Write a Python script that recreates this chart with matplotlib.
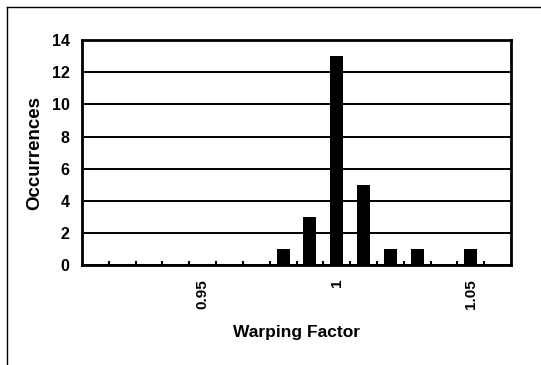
import matplotlib
matplotlib.use("Agg")
import matplotlib.pyplot as plt
import numpy as np
from matplotlib.lines import Line2D

plt.rcParams['font.family'] = ['Liberation Sans', 'DejaVu Sans']
plt.rcParams['font.weight'] = 'bold'

warping = [0.98, 0.99, 1.00, 1.01, 1.02, 1.03, 1.05]
counts = [1, 3, 13, 5, 1, 1, 1]
xticks = [0.95, 1.00, 1.05]
xticklabels = ["0.95", "1", "1.05"]
yticks = [0, 2, 4, 6, 8, 10, 12, 14]

fig = plt.figure(figsize=(5.41, 3.65), dpi=100)
ax = fig.add_axes([0.1516, 0.274, 0.793, 0.616])

ax.bar(warping, counts, width=0.0049, color='black', zorder=3)

ax.set_xlim(0.905, 1.065)
ax.set_ylim(0, 14)
ax.set_yticks(yticks)
ax.set_yticklabels([str(v) for v in yticks], fontsize=11.5, fontweight='bold')
ax.set_xticks(xticks)
ax.set_xticklabels(xticklabels, rotation=90, fontsize=11, fontweight='bold')
ax.set_xticks(np.arange(0.915, 1.065, 0.01), minor=True)
ax.tick_params(axis='x', which='major', length=0, pad=10)
ax.tick_params(axis='x', which='minor', direction='in', length=3, width=1.5)
ax.tick_params(axis='y', length=0, pad=9)

ax.yaxis.grid(True, color='black', linewidth=1.4, zorder=1)
ax.set_axisbelow(True)
for s in ax.spines.values():
    s.set_linewidth(2)
    s.set_color('black')

ax.set_ylabel("Occurrences", fontsize=13.5, fontweight='bold', labelpad=6)
ax.set_xlabel("Warping Factor", fontsize=12.5, fontweight='bold', labelpad=12)

fig.add_artist(Line2D([7/541, 7/541], [0, 1 - 7/365], color='black', linewidth=1, transform=fig.transFigure))
fig.add_artist(Line2D([7/541, 1], [1 - 7/365, 1 - 7/365], color='black', linewidth=1, transform=fig.transFigure))

fig.savefig("out.png", dpi=100)
